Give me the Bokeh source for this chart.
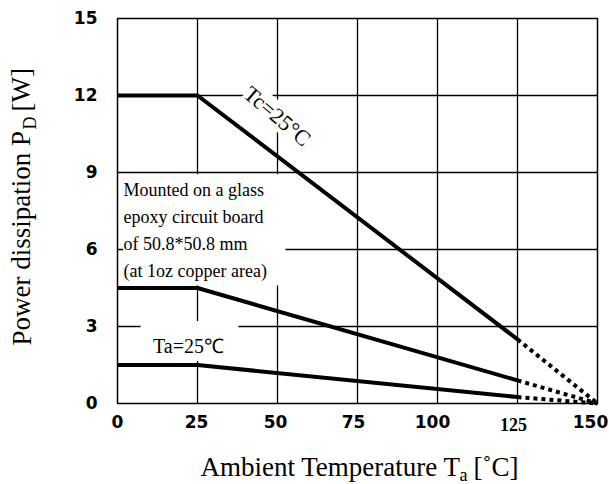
from bokeh.plotting import figure
from bokeh.models import Label, Range1d
from bokeh.core.properties import value
from bokeh.embed import file_html
from bokeh.resources import INLINE

# ---- data ----
temps = [0, 25, 125, 150]
pd_tc25 = [12.0, 12.0, 2.5, 0.0]
pd_board = [4.5, 4.5, 0.9, 0.0]
pd_ta25 = [1.5, 1.5, 0.25, 0.0]
x_ticks = [0, 25, 50, 75, 100, 125, 150]
x_tick_labels = ["0", "25", "50", "75", "100", "125", "150"]
y_ticks = [0, 3, 6, 9, 12, 15]
y_tick_labels = ["0", "3", "6", "9", "12", "15"]
board_note = ["Mounted on a glass", "epoxy circuit board",
              "of 50.8*50.8 mm", "(at 1oz copper area)"]

SERIF = "Liberation Serif"
SANS = "DejaVu Sans"
W, H = 609, 484
# plot area placement inside the canvas (pixels)
L, R, T, B = 117, 597, 18, 403
X0, X1 = x_ticks[0], x_ticks[-1]
Y0, Y1 = y_ticks[0], y_ticks[-1]
sx = (R - L) / (X1 - X0)
sy = (B - T) / (Y1 - Y0)

p = figure(width=W, height=H,
           x_range=Range1d(X0 - L / sx, X1 + (W - R) / sx),
           y_range=Range1d(Y0 - (H - B) / sy, Y1 + T / sy),
           output_backend="svg", toolbar_location=None,
           min_border=0, x_axis_type=None, y_axis_type=None)
p.background_fill_color = "white"
p.border_fill_color = "white"
p.outline_line_color = None
p.grid.visible = False

# grid lines (from the tick arrays)
gx = x_ticks[1:-1]
gy = y_ticks[1:-1]
p.segment(x0=gx, y0=[Y0] * len(gx), x1=gx, y1=[Y1] * len(gx), line_color="black", line_width=1.3)
p.segment(x0=[X0] * len(gy), y0=gy, x1=[X1] * len(gy), y1=gy, line_color="black", line_width=1.3)

# white masks behind the annotations
p.quad(left=[1.8, 7.2], right=[52.5, 37.8], bottom=[4.6, 1.66], top=[8.93, 3.21],
       fill_color="white", line_color=None)

# curves
for s in (pd_tc25, pd_board, pd_ta25):
    p.line(temps[:3], s[:3], line_width=4, color="black")
    p.line(temps[2:], s[2:], line_width=4, color="black", line_dash="4 4")

# plot-area border
p.quad(left=[X0], right=[X1], bottom=[Y0], top=[Y1], fill_color=None,
       line_color="black", line_width=1.5)

# tick labels
p.text(x=[X0] * len(y_ticks), y=y_ticks, text=y_tick_labels, x_offset=-20, y_offset=-1,
       text_align="right", text_baseline="middle", text_font=value(SANS),
       text_font_style="bold", text_font_size="17px", text_color="black")
xt_main = [(t, s) for t, s in zip(x_ticks, x_tick_labels) if s != "125"]
xt_serif = [(t, s) for t, s in zip(x_ticks, x_tick_labels) if s == "125"]
p.text(x=[t for t, _ in xt_main], y=[Y0] * len(xt_main), text=[s for _, s in xt_main],
       x_offset=[-round(t * 7 / 150) for t, _ in xt_main], y_offset=18,
       text_align="center", text_baseline="middle", text_font=value(SANS),
       text_font_style="bold", text_font_size="17px", text_color="black")
p.text(x=[t for t, _ in xt_serif], y=[Y0] * len(xt_serif), text=[s for _, s in xt_serif],
       x_offset=-4, y_offset=21, text_align="center", text_baseline="middle",
       text_font=value(SERIF), text_font_style="bold", text_font_size="18px",
       text_color="black")

# annotations in the plot
p.add_layout(Label(x=50, y=11.2, text="Tc=25°C", angle=-0.70, text_align="center",
                   text_baseline="middle", text_font=SERIF, text_font_size="22px",
                   text_color="black", background_fill_color="white"))
for i, line in enumerate(board_note):
    p.add_layout(Label(x=1.9, y=8.30 - i * 1.05, text=line, text_align="left",
                       text_baseline="middle", text_font=SERIF, text_font_size="18px",
                       text_color="black"))
p.add_layout(Label(x=22.2, y=2.24, text="Ta=25℃", text_align="center",
                   text_baseline="middle", text_font=SERIF, text_font_size="20px",
                   text_color="black"))

# axis titles (screen units, y measured up from the canvas bottom)
def title_part(x, y, text, size, angle=0.0):
    p.add_layout(Label(x=x, y=y, x_units="screen", y_units="screen", angle=angle,
                       text=text, text_align="left", text_baseline="middle",
                       text_font=SERIF, text_font_size=size, text_color="black"))

title_part(200, 17.6, "Ambient Temperature T", "27px")
title_part(459, 9.7, "a", "18px")
title_part(473, 17.6, "[˚C]", "27px")

title_part(21.0, 139, "Power dissipation P", "27px", 1.5708)
title_part(29.0, 355, "D", "18px", 1.5708)
title_part(21.0, 373, "[W]", "27px", 1.5708)

open("out.html", "w").write(file_html(p, INLINE))
